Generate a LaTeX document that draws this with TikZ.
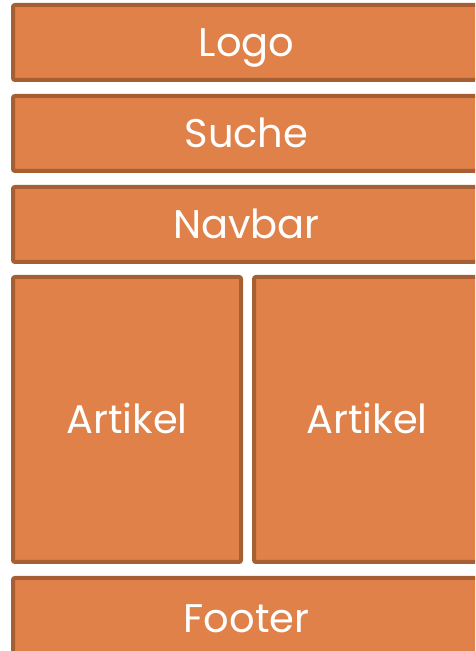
\documentclass[tikz,border=0pt]{standalone}
\usepackage{fontspec}
\setmainfont{Poppins}
\definecolor{boxfill}{HTML}{DF8148}
\definecolor{boxline}{HTML}{A65E33}
\begin{document}
\begin{tikzpicture}[x=1pt,y=1pt,
  box/.style={draw=boxline, fill=boxfill, line width=4pt, rounded corners=2pt,
    text=white, font=\fontsize{40}{46}\selectfont, inner sep=0pt,
    text height=28pt, text depth=0pt}]
\useasboundingbox (0,0) rectangle (475,651);
\clip (0,0) rectangle (475,651);
\node[box, minimum width=467pt, minimum height=75pt] (logo) at (246.5,608.5) {Logo};
\node[box, minimum width=467pt, minimum height=75pt] (suche) at (246.5,517.5) {Suche};
\node[box, minimum width=467pt, minimum height=75pt] (navbar) at (246.5,426.5) {Navbar};
\node[box, minimum width=228pt, minimum height=285pt] (art1) at (127,231.5) {Artikel};
\node[box, minimum width=226pt, minimum height=285pt] (art2) at (367,231.5) {Artikel};
\node[box, minimum width=467pt, minimum height=82pt] (footer) at (246.5,32) {Footer};
\end{tikzpicture}
\end{document}
